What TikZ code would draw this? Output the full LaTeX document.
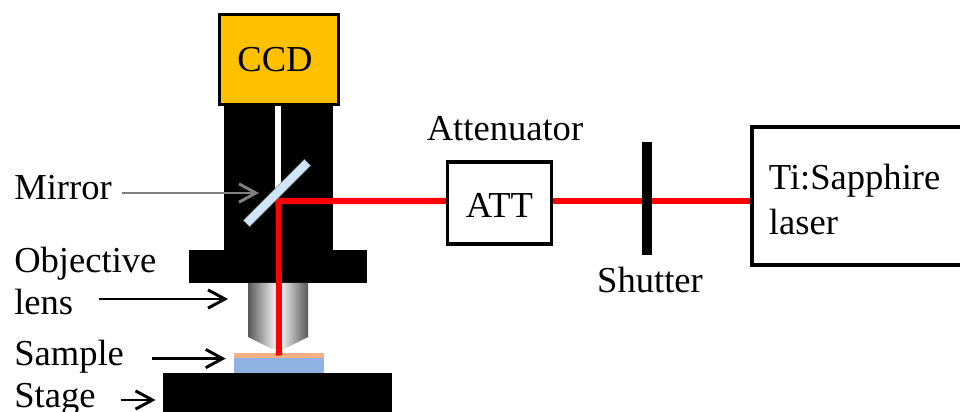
\documentclass[tikz,border=0pt]{standalone}
\usepackage{fontspec}
\setmainfont{Liberation Serif}
\usetikzlibrary{arrows.meta}

\definecolor{ccdyellow}{HTML}{FFC000}
\definecolor{mirrorblue}{HTML}{CFE4F6}
\definecolor{filmorange}{HTML}{F4B183}
\definecolor{subblue}{HTML}{8FB4E3}

\begin{document}
\begin{tikzpicture}[x=0.025cm, y=-0.025cm, >={Straight Barb[length=12pt, width=13pt]},
  font=\fontsize{26}{30.5}\selectfont,
  box/.style={rectangle, draw, line width=2.2pt, inner sep=0pt, align=center},
  blackblock/.style={rectangle, fill=black, inner sep=0pt},
  plain/.style={inner sep=0pt, align=left},
  beam/.style={line width=4.3pt, red},
  pointer/.style={->, line width=2.1pt}]

  \clip (0,0) rectangle (960,412);

  % Microscope body
  \node[blackblock, minimum width=2.725cm, minimum height=3.6cm] (Tube) at (278.5,178) {};
  \node[rectangle, fill=white, inner sep=0pt, minimum width=0.15cm, minimum height=2.3cm] (Slit) at (278,142) {};
  \node[blackblock, minimum width=4.45cm, minimum height=0.825cm] (Flange) at (278,266.5) {};
  \node[box, fill=ccdyellow, minimum width=2.98cm, minimum height=2.25cm] (CCD) at (279,59.5) {CCD\hspace{0.2cm}};

  % Objective and stage
  \shade[left color=black!65, right color=black!65, middle color=white]
    (248,283) -- (248,337) -- (272,349) -- (284,349) -- (308,337) -- (308,283) -- cycle;
  \node[blackblock, minimum width=5.725cm, minimum height=1cm] (Stage) at (277.5,393) {};
  \node[rectangle, fill=subblue, inner sep=0pt, minimum width=2.25cm, minimum height=0.4cm] (Sample) at (279,365) {};
  \node[rectangle, fill=filmorange, inner sep=0pt, minimum width=2.25cm, minimum height=0.14cm] (Film) at (279,355.5) {};

  % Boxes on the beam line
  \node[box, text height=20pt, minimum width=2.6cm, minimum height=2.05cm] (ATT) at (499.5,203) {ATT};
  \node[box, line width=2.8pt, anchor=west, minimum width=7cm, minimum height=3.45cm,
    text width=6.15cm, align=left] (Laser) at (750,196) {\rule{0pt}{23pt}Ti:Sapphire\\[1.5pt]laser};
  \coordinate (Corner) at (278.5,201);

  % Beam
  \draw[beam] (Corner -| Laser.west) -- (Corner -| ATT.east);
  \draw[beam] (Corner -| ATT.west) -- (Corner) -- (Film.center);

  \node[blackblock, minimum width=0.25cm, minimum height=2.825cm] (Shutter) at (647,198.5) {};
  \node[rectangle, draw=black!45, line width=0.3pt, fill=mirrorblue, inner sep=0pt, rotate=45,
    minimum width=2.15cm, minimum height=0.22cm] (Mirror) at (277,193) {};

  % Labels
  \node[plain, anchor=base west] (MirrorLabel) at (14,200) {Mirror};
  \node[plain, anchor=west] (ObjLabel) at (14,281) {Objective\\lens};
  \node[plain, anchor=base west] (SampleLabel) at (14,365) {Sample};
  \node[plain, anchor=base west] (StageLabel) at (14,407) {Stage};
  \node[plain, anchor=base] (AttLabel) at (505,141) {Attenuator};
  \node[plain, anchor=base] (ShutterLabel) at (650,292) {Shutter};

  % Pointers
  \coordinate (ObjStart) at (99,299);
  \coordinate (ObjEnd) at (228,299);
  \coordinate (MirrorEnd) at (259,193);
  \draw[pointer, black!50] (MirrorLabel.east |- MirrorEnd) ++(10,0) -- (MirrorEnd);
  \draw[pointer] (ObjStart) -- (ObjEnd);
  \draw[pointer] ([xshift=0.7cm]SampleLabel.east |- Film.south) -- ([xshift=-0.2cm]Film.west |- Film.south);
  \draw[pointer] ([xshift=0.625cm]StageLabel.east |- 0,400) -- ([xshift=-0.18cm]Stage.west |- 0,400);

\end{tikzpicture}
\end{document}
